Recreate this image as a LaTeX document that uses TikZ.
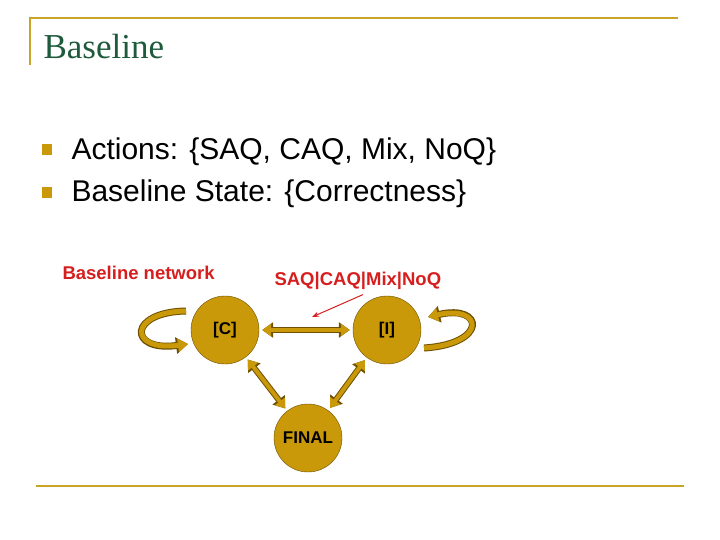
\documentclass[tikz,border=0pt]{standalone}
\usepackage{fontspec}
\setmainfont{Liberation Serif}
\newfontfamily\arialfont{Liberation Sans}
\usetikzlibrary{arrows.meta}
\definecolor{gold}{RGB}{201,153,10}
\definecolor{darkgold}{RGB}{110,80,0}
\definecolor{rule}{RGB}{200,165,40}
\definecolor{titlegreen}{RGB}{30,90,60}
\definecolor{netred}{RGB}{215,30,30}
\tikzset{
  state/.style={circle,draw=darkgold,fill=gold,minimum width=68pt,inner sep=0pt,
    font=\arialfont\bfseries\fontsize{17}{20}\selectfont},
  fat/.style={draw=darkgold,line width=7pt,-{Triangle[length=12pt,width=16pt]},
    postaction={draw=gold,line width=5pt,-{Triangle[length=10pt,width=13pt]}}},
  fatboth/.style={draw=darkgold,line width=6pt,{Triangle[length=11pt,width=15pt]}-{Triangle[length=11pt,width=15pt]},
    shorten <=3pt,shorten >=3pt,
    postaction={draw=gold,line width=4pt,{Triangle[length=9pt,width=12pt]}-{Triangle[length=9pt,width=12pt]}}},
  lbl/.style={text=netred,anchor=base west,font=\arialfont\bfseries\fontsize{18.5}{22}\selectfont},
  item/.style={anchor=base west,font=\arialfont\fontsize{30}{34}\selectfont}
}
\begin{document}
\begin{tikzpicture}[x=1pt,y=-1pt]
	\useasboundingbox (0,0) rectangle (720,540);
	% frame
	\draw[rule,line width=1.2pt] (30,65) -- (30,18) -- (678,18);
	\draw[rule,line width=1.2pt] (36,486) -- (684,486);
	\node[anchor=base west,text=titlegreen,font=\fontsize{35}{40}\selectfont] (title) at (40,59) {Baseline};
	% bullets
	\fill[gold] (42,144) rectangle (52,155);
	\fill[gold] (42,187) rectangle (52,198);
	\node[item] (act) at (68,160) {Actions: \{SAQ, CAQ, Mix, NoQ\}};
	\node[item] (bst) at (68,202) {Baseline State: \{Correctness\}};
	% network
	\node[lbl] (net) at (59,279) {Baseline network};
	\node[lbl] (acts) at (271,285) {SAQ|CAQ|Mix|NoQ};
	\node[state] (C) at (225,330) {[C]};
	\node[state] (I) at (387,330) {[I]};
	\node[state] (F) at (308,438) {FINAL};
	\draw[fatboth] (C) -- (I);
	\draw[fatboth] (C) -- (F);
	\draw[fatboth] (I) -- (F);
	\coordinate (lstart) at (186,311);
	\coordinate (rstart) at (424,348);
	\draw[fat] (lstart) .. controls (128,312) and (128,352) .. (188,344);
	\draw[fat] (rstart) .. controls (488,344) and (484,304) .. (428,317);
	\coordinate (tip) at (312,317);
	\draw[netred,line width=1pt,-{Stealth[length=7pt]}] (acts.south) ++(5,2) -- (tip);
\end{tikzpicture}
\end{document}
